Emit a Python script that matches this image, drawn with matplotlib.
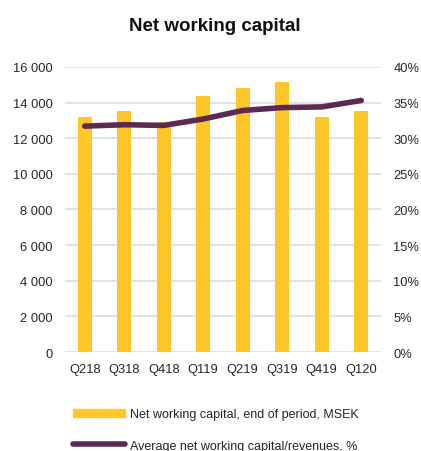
import numpy as np
import matplotlib.pyplot as plt
from matplotlib.patches import Patch
from matplotlib.lines import Line2D
from matplotlib.ticker import FuncFormatter

plt.rcParams['font.family'] = ['Liberation Sans', 'DejaVu Sans']

quarters = ["Q218", "Q318", "Q418", "Q119", "Q219", "Q319", "Q419", "Q120"]
nwc = [13170, 13520, 12940, 14390, 14820, 15170, 13200, 13520]
nwc_pct = [31.7, 31.9, 31.8, 32.7, 33.9, 34.3, 34.4, 35.3]

bar_color = "#FFC629"
line_color = "#5C2A50"
grid_color = "#D9DDE3"
text_color = "#262626"

fig = plt.figure(figsize=(4.21, 4.52), dpi=100)
ax = fig.add_axes([65/421, 1-353/452, 316/421, 285/452])
ax2 = ax.twinx()

x = np.arange(len(quarters))
ax.bar(x, nwc, width=0.36, color=bar_color, zorder=2)
ax2.plot(x, nwc_pct, color=line_color, lw=4, solid_capstyle="round", zorder=3)

ax.set_xlim(-0.5, len(quarters) - 0.5)
ax.set_ylim(0, 16000)
ax.set_yticks(np.arange(0, 16001, 2000))
ax.yaxis.set_major_formatter(FuncFormatter(lambda v, p: f"{int(v):,}".replace(",", " ")))
ax2.set_ylim(0, 40)
ax2.set_yticks(np.arange(0, 41, 5))
ax2.yaxis.set_major_formatter(FuncFormatter(lambda v, p: f"{int(v)}%"))

ax.set_xticks(x)
ax.set_xticklabels(quarters)
ax.grid(axis="y", color=grid_color, lw=1.2, zorder=0)
ax.set_axisbelow(True)

for a in (ax, ax2):
    for s in a.spines.values():
        s.set_visible(False)
    a.tick_params(length=0, labelsize=9.3, colors=text_color)
ax.tick_params(axis="y", pad=9)
ax.tick_params(axis="x", pad=8)
ax2.tick_params(axis="y", pad=9)

fig.text(0.51, 0.942, "Net working capital", ha="center", va="center",
         fontsize=13.5, fontweight="bold", color="#111111")

handles = [Patch(color=bar_color), Line2D([], [], color=line_color, lw=4, solid_capstyle="round")]
labels = ["Net working capital, end of period, MSEK", "Average net working capital/revenues, %"]
fig.legend(handles, labels, loc="upper left", bbox_to_anchor=(62/421, 1-398/452),
           frameon=False, fontsize=9, handlelength=4.1, handleheight=0.6,
           handletextpad=0.45, labelspacing=1.55, labelcolor=text_color)

fig.savefig("out.png", dpi=100)
